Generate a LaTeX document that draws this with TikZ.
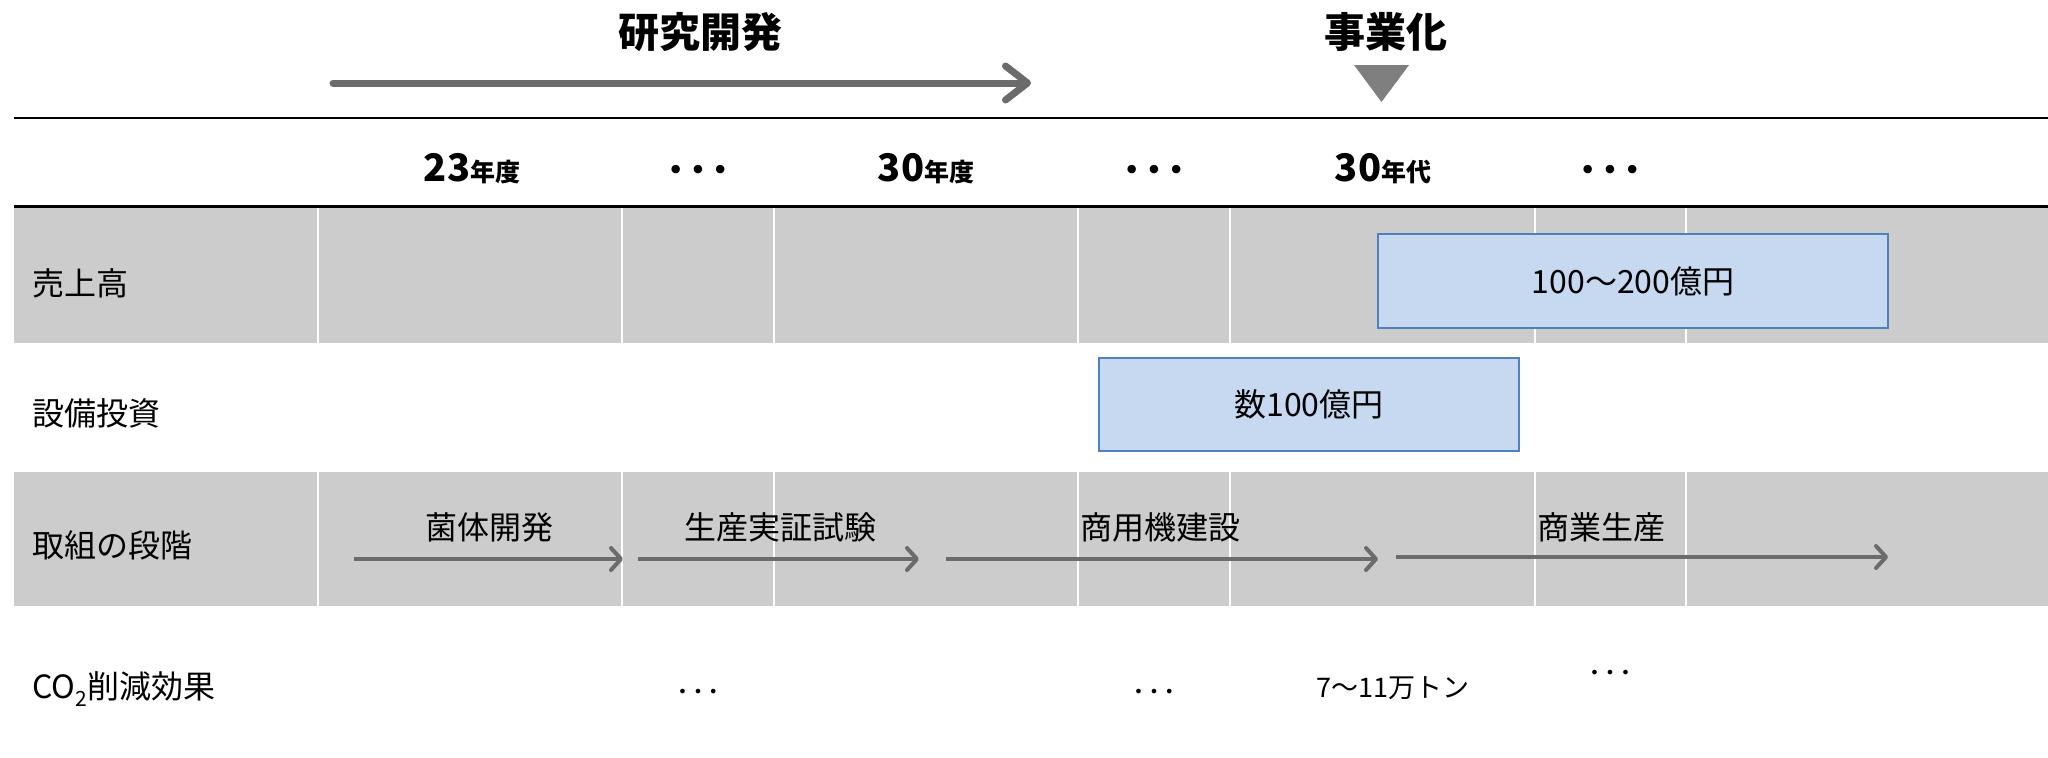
\documentclass[tikz,border=0pt]{standalone}
\usepackage{fontspec}
\setmainfont{Noto Sans CJK JP}
\newfontfamily\dvfont{DejaVu Sans}
\usetikzlibrary{arrows.meta}
\definecolor{rowgray}{HTML}{CCCCCC}
\definecolor{arrgray}{HTML}{6B6B6B}
\definecolor{trigray}{HTML}{7F7F7F}
\definecolor{boxfill}{HTML}{C6D9F1}
\definecolor{boxline}{HTML}{4F81BD}
\newcommand{\hnum}[2]{{\fontsize{19}{22}\selectfont\bfseries #1}{\fontsize{12.5}{15}\selectfont\bfseries #2}}
\newcommand{\bigdots}{{\dvfont\bfseries\fontsize{12}{12}\selectfont •\kern3.5pt•\kern3.5pt•}}
\newcommand{\smalldots}{{\dvfont\fontsize{8}{8}\selectfont •\kern3pt•\kern3pt•}}
\begin{document}
\begin{tikzpicture}[x=0.5pt,y=-0.5pt,
  title/.style={inner sep=0pt,font=\fontsize{20.5}{24}\selectfont\bfseries},
  hdr/.style={inner sep=0pt},
  rowlabel/.style={inner sep=0pt,anchor=west,font=\fontsize{16}{19}\selectfont},
  phaselabel/.style={inner sep=0pt,font=\fontsize{16}{19}\selectfont},
  valbox/.style={draw=boxline,fill=boxfill,line width=1pt,inner sep=0pt,font=\fontsize{16}{19}\selectfont},
  co2val/.style={inner sep=0pt,font=\fontsize{13.5}{16}\selectfont},
  rule/.style={line width=1.4pt,black},
  sep/.style={line width=1pt,white},
  bigarrow/.style={line width=3.5pt,arrgray,line cap=round,-{Straight Barb[length=11pt,width=17pt,round]}},
  phasearrow/.style={line width=2pt,arrgray,-{Straight Barb[length=5pt,width=11pt,round]}}
]
\useasboundingbox (0,0) rectangle (2048,757);
\fill[white] (0,0) rectangle (2048,757);

% gray rows
\fill[rowgray] (14,208) rectangle (2048,343);
\fill[rowgray] (14,472) rectangle (2048,606);
\foreach \x in {318,622,774,1078,1230,1535,1686} {
  \draw[sep] (\x,208) -- (\x,343);
  \draw[sep] (\x,472) -- (\x,606);
}

% rules
\draw[rule] (14,118) -- (2048,118);
\draw[rule] (14,206.5) -- (2048,206.5);

% titles
\node[title] (rd) at (700,32) {研究開発};
\node[title] (biz) at (1386,32) {事業化};
\coordinate (rdS) at (333,83);
\coordinate (rdE) at (1031,83);
\draw[bigarrow] (rdS) -- (rdE);
\fill[trigray] (1354,65) -- (1409,65) -- (1381.5,102) -- cycle;

% header
\node[hdr] (h23) at (472,169) {\hnum{23}{年度}};
\node[hdr] (hd1) at (698,172) {\bigdots};
\node[hdr] (h30) at (926,169) {\hnum{30}{年度}};
\node[hdr] (hd2) at (1154,172) {\bigdots};
\node[hdr] (h30s) at (1383,169) {\hnum{30}{年代}};
\node[hdr] (hd3) at (1610,172) {\bigdots};

% row labels
\node[rowlabel] (lsales) at (32,283) {売上高};
\node[rowlabel] (lcapex) at (32,413) {設備投資};
\node[rowlabel] (lstage) at (32,545) {取組の段階};
\node[rowlabel] (lco2) at (32,689) {CO\raisebox{-0.45ex}{\fontsize{10.5}{11}\selectfont 2}削減効果};

% value boxes
\node[valbox,minimum width=255pt,minimum height=47pt] (sales) at (1633,281) {100～200億円};
\node[valbox,minimum width=210pt,minimum height=46.5pt] (capex) at (1309,404.5) {数100億円};

% phase labels
\node[phaselabel] (p1) at (489,527) {菌体開発};
\node[phaselabel] (p2) at (780,527) {生産実証試験};
\node[phaselabel] (p3) at (1160,527) {商用機建設};
\node[phaselabel] (p4) at (1601,527) {商業生産};

% phase arrows
\coordinate (a1s) at (354,559); \coordinate (a1e) at (623,559);
\coordinate (a2s) at (638,559); \coordinate (a2e) at (919,559);
\coordinate (a3s) at (946,559); \coordinate (a3e) at (1378,559);
\coordinate (a4s) at (1396,557); \coordinate (a4e) at (1888,557);
\draw[phasearrow] (a1s) -- (a1e);
\draw[phasearrow] (a2s) -- (a2e);
\draw[phasearrow] (a3s) -- (a3e);
\draw[phasearrow] (a4s) -- (a4e);

% CO2 row
\node[hdr] (c1) at (698,693) {\smalldots};
\node[hdr] (c2) at (1154,693) {\smalldots};
\node[co2val] (c3) at (1393,688) {7～11万トン};
\node[hdr] (c4) at (1610,674) {\smalldots};
\end{tikzpicture}
\end{document}
